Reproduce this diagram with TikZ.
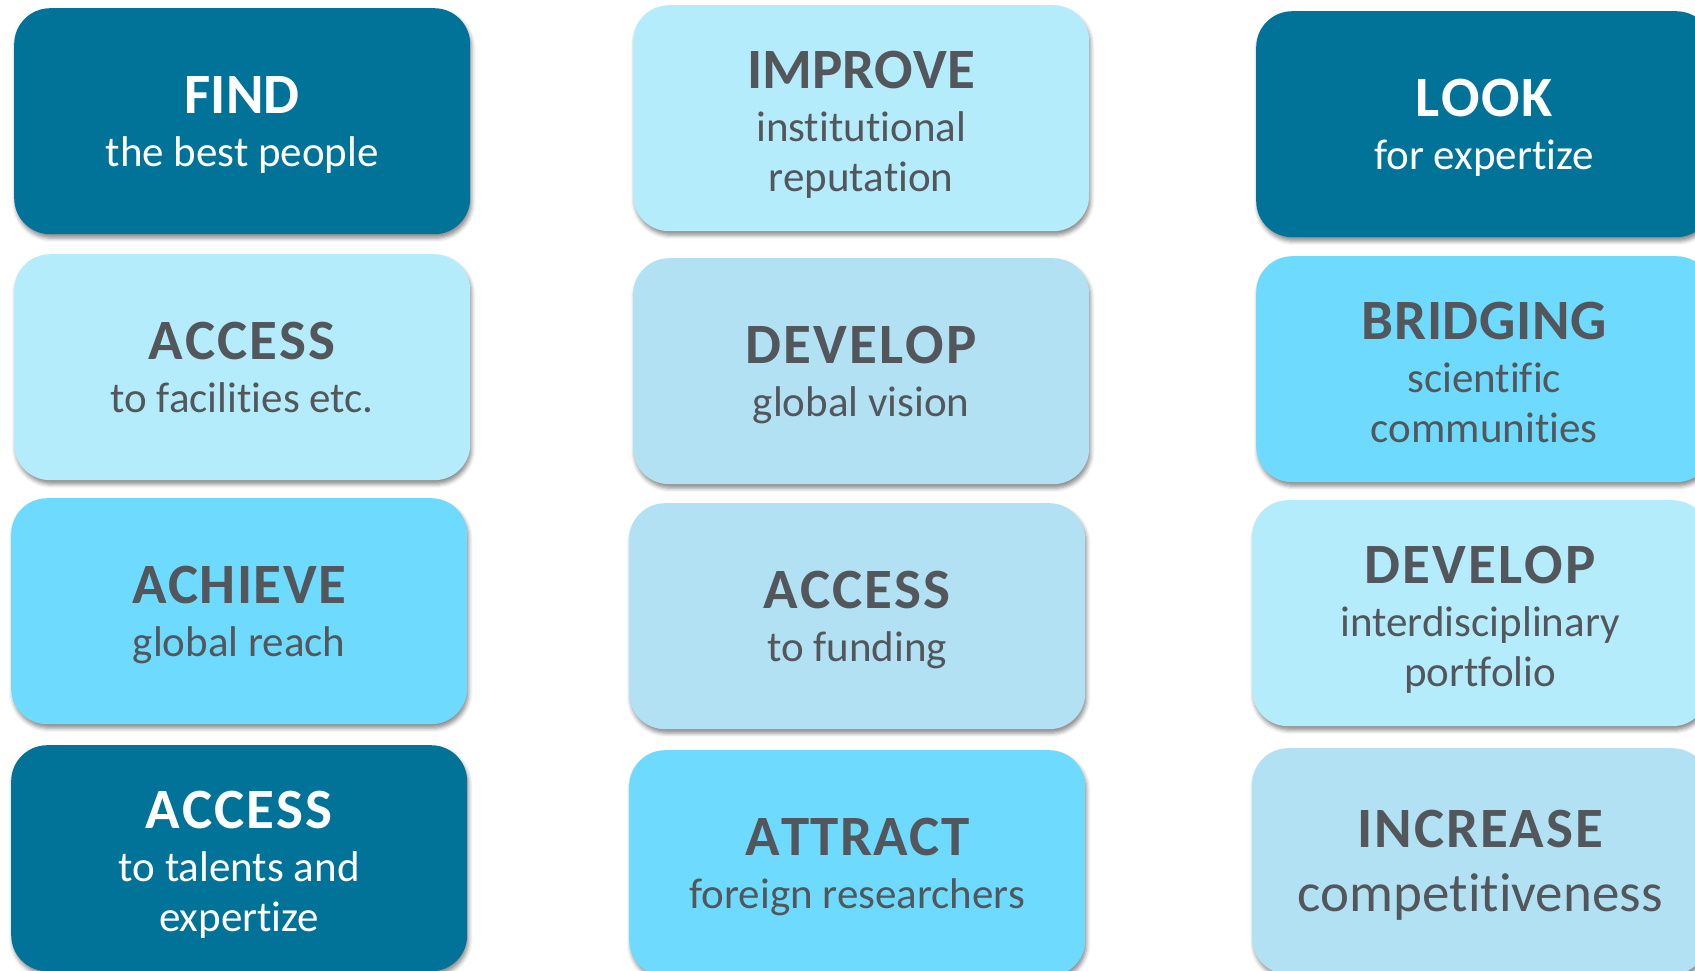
\documentclass[tikz,border=0pt]{standalone}
\usepackage{fontspec}
\setmainfont{Carlito}[Ligatures={NoCommon,NoRare}]
\newfontfamily\headfamily{Carlito}[Ligatures={NoCommon,NoRare}, Kerning=Off]
\usetikzlibrary{shadows.blur}

\definecolor{tealdark}{HTML}{017398}
\definecolor{cyanpale}{HTML}{B5ECFC}
\definecolor{bluepale}{HTML}{B2E1F3}
\definecolor{cyanbright}{HTML}{6EDBFE}
\definecolor{slatetext}{HTML}{53565A}

% bold key word heading each tile (optional tracking), a little extra gap below it
\newcommand\headword[2][0]{{\fontsize{57}{51}\headfamily\bfseries
  \addfontfeature{LetterSpace=#1}#2}\\[3pt]}

\tikzset{
  tile/.style={rounded corners=36pt, minimum width=456pt, minimum height=226pt,
    anchor=north west, inner sep=0pt, draw=none,
    blur shadow={shadow xshift=1.5pt, shadow yshift=-4pt,
      shadow blur radius=4pt, shadow opacity=45}},
  darktile/.style={tile, fill=tealdark},
  paletile/.style={tile, fill=cyanpale},
  bluetile/.style={tile, fill=bluepale},
  brighttile/.style={tile, fill=cyanbright},
  caption/.style={align=center, text depth=0pt, inner sep=0pt,
    font=\fontsize{43}{50}\selectfont, text=slatetext},
  lightcaption/.style={caption, text=white},
  threeline/.style={yshift=-3pt}
}

\begin{document}
\begin{tikzpicture}[x=1pt, y=-1pt]
  \useasboundingbox (0,0) rectangle (1695,970);
  \clip (0,0) rectangle (1695,970);

  % left column
  \node[darktile]   (find)     at (14,8)   {};
  \node[paletile]   (facil)    at (14,254) {};
  \node[brighttile] (achieve)  at (11,498) {};
  \node[darktile]   (talents)  at (11,745) {};

  % middle column
  \node[paletile]   (improve)  at (633,5)   {};
  \node[bluetile]   (vision)   at (633,258) {};
  \node[bluetile]   (funding)  at (629,503) {};
  \node[brighttile] (attract)  at (629,750) {};

  % right column
  \node[darktile]   (look)      at (1256,11)  {};
  \node[brighttile] (bridging)  at (1256,256) {};
  \node[paletile]   (portfolio) at (1252,500) {};
  \node[bluetile]   (increase)  at (1252,748) {};

  % captions
  \node[lightcaption] (findtxt)    at (find.center)    {\headword{FIND}the best people};
  \node[caption]      (faciltxt)   at (facil.center)   {\headword[3.5]{ACCESS}to facilities etc.};
  \node[caption]      (achievetxt) at (achieve.center) {\headword[2.4]{ACHIEVE}global reach};
  \node[lightcaption, threeline] (talentstxt) at (talents.center) {\headword[3.5]{ACCESS}to talents and\\expertize};

  \node[caption, threeline] (improvetxt) at (improve.center) {\headword{IMPROVE}institutional\\reputation};
  \node[caption] (visiontxt)  at (vision.center)  {\headword[3.8]{DEVELOP}global vision};
  \node[caption] (fundingtxt) at (funding.center) {\headword[3.5]{ACCESS}to funding};
  \node[caption] (attracttxt) at (attract.center) {\headword[2.4]{ATTRACT}foreign researchers};

  \node[lightcaption] (looktxt) at (look.center) {\headword[3.3]{LOOK}for expertize};
  \node[caption, threeline] (bridgingtxt)  at (bridging.center)  {\headword[1]{BRIDGING}scientific\\communities};
  \node[caption, threeline] (portfoliotxt) at (portfolio.center) {\headword[3.8]{DEVELOP}interdisciplinary\\portfolio};
  \node[caption, font=\fontsize{55}{61}\selectfont] (increasetxt) at (increase.center) {\headword[3.3]{INCREASE}competitiveness};
\end{tikzpicture}
\end{document}
